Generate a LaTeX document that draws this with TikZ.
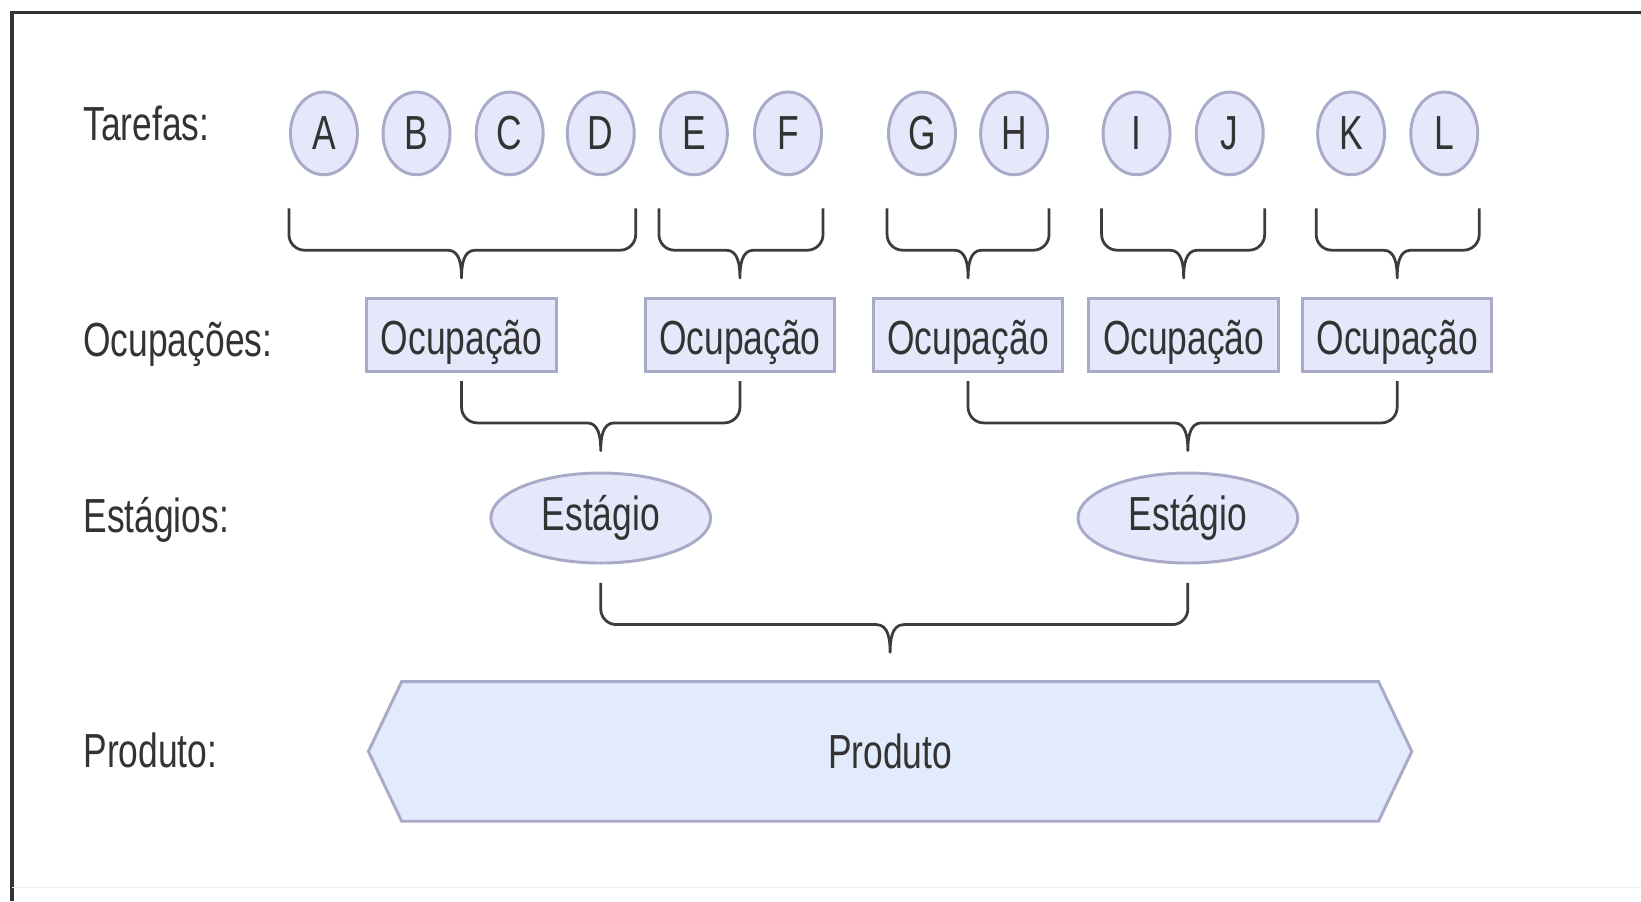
\documentclass[tikz,border=0pt]{standalone}
\usepackage{fontspec}
\setmainfont{Liberation Sans}[FakeStretch=0.74]
\usetikzlibrary{shapes.geometric,shapes.symbols,calc}
\definecolor{texto}{HTML}{333333}
\definecolor{tracoazul}{HTML}{A9A9C8}
\definecolor{fundoazul}{HTML}{E5E8FA}
\definecolor{fundoproduto}{HTML}{E2EBFB}
\definecolor{corchave}{HTML}{3C3C3C}
\tikzset{
  letra/.style={font=\fontsize{13}{15}\selectfont, text=texto},
  rotulo/.style={letra, anchor=base west, inner sep=0pt},
  caixa/.style={letra, draw=tracoazul, fill=fundoazul, line width=0.8pt, inner sep=1pt},
  tarefa/.style={caixa, ellipse, minimum width=0.64cm, minimum height=0.79cm, inner sep=0pt},
  ocupacao/.style={caixa, rectangle, minimum width=1.81cm, minimum height=0.7cm, text height=0.38cm, text depth=0cm},
  estagio/.style={caixa, ellipse, minimum width=2.1cm, minimum height=0.86cm},
  produto/.style={caixa, fill=fundoproduto, signal, signal to=west and east, signal pointer angle=129, minimum width=9.97cm, minimum height=1.335cm},
  chave/.style={draw=corchave, line width=0.75pt, line join=round}
}
\begin{document}
\begin{tikzpicture}
  \useasboundingbox (0,0) rectangle (15.68,8.61);
  % moldura
  \draw[line width=1pt, color=black!80] (15.68,8.49) -- (0.115,8.49) -- (0.115,0);
  \draw[color=black!7] (0.115,0.13) -- (15.68,0.13);
  % rotulos das linhas
  \node[rotulo] (rotTar) at (0.79,7.27) {Tarefas:};
  \node[rotulo] (rotOcu) at (0.79,5.2) {Ocupações:};
  \node[rotulo] (rotEst) at (0.79,3.52) {Estágios:};
  \node[rotulo] (rotPro) at (0.79,1.28) {Produto:};
  % tarefas
  \foreach \n/\x in {A/3.095, B/3.98, C/4.87, D/5.74, E/6.63, F/7.53, G/8.81, H/9.69, I/10.86, J/11.75, K/12.91, L/13.80}
    \node[tarefa] (\n) at (\x,7.335) {\n};
  % ocupacoes
  \foreach \n/\x in {1/4.41, 2/7.07, 3/9.25, 4/11.31, 5/13.35}
    \node[ocupacao] (o\n) at (\x,5.41) {Ocupação};
  % estagios
  \node[estagio] (e1) at (5.74,3.66) {Estágio};
  \node[estagio] (e2) at (11.35,3.66) {Estágio};
  % produto
  \node[produto] (p) at (8.505,1.43) {Produto};
  % chaves
  \foreach \esq/\dir/\alvo/\folga in {A.west/D.east/o1/0.18, E.west/F.east/o2/0.18, G.west/H.east/o3/0.18, I.west/J.east/o4/0.18, K.west/L.east/o5/0.18, o1.south/o2.south/e1/0.2, o3.south/o5.south/e2/0.2, e1.south/e2.south/p/0.265}
    \draw[chave] let \p1=(\esq), \p2=(\dir), \p3=($(\alvo.north)+(0,\folga)$) in
      (\x1,\y3+0.665cm) -- (\x1,\y3+0.415cm)
      to[out=-90,in=180] (\x1+0.15cm,\y3+0.265cm) -- (\x3-0.13cm,\y3+0.265cm)
      to[out=0,in=90] (\x3,\y3)
      to[out=90,in=180] (\x3+0.13cm,\y3+0.265cm) -- (\x2-0.15cm,\y3+0.265cm)
      to[out=0,in=-90] (\x2,\y3+0.415cm) -- (\x2,\y3+0.665cm);
\end{tikzpicture}
\end{document}
